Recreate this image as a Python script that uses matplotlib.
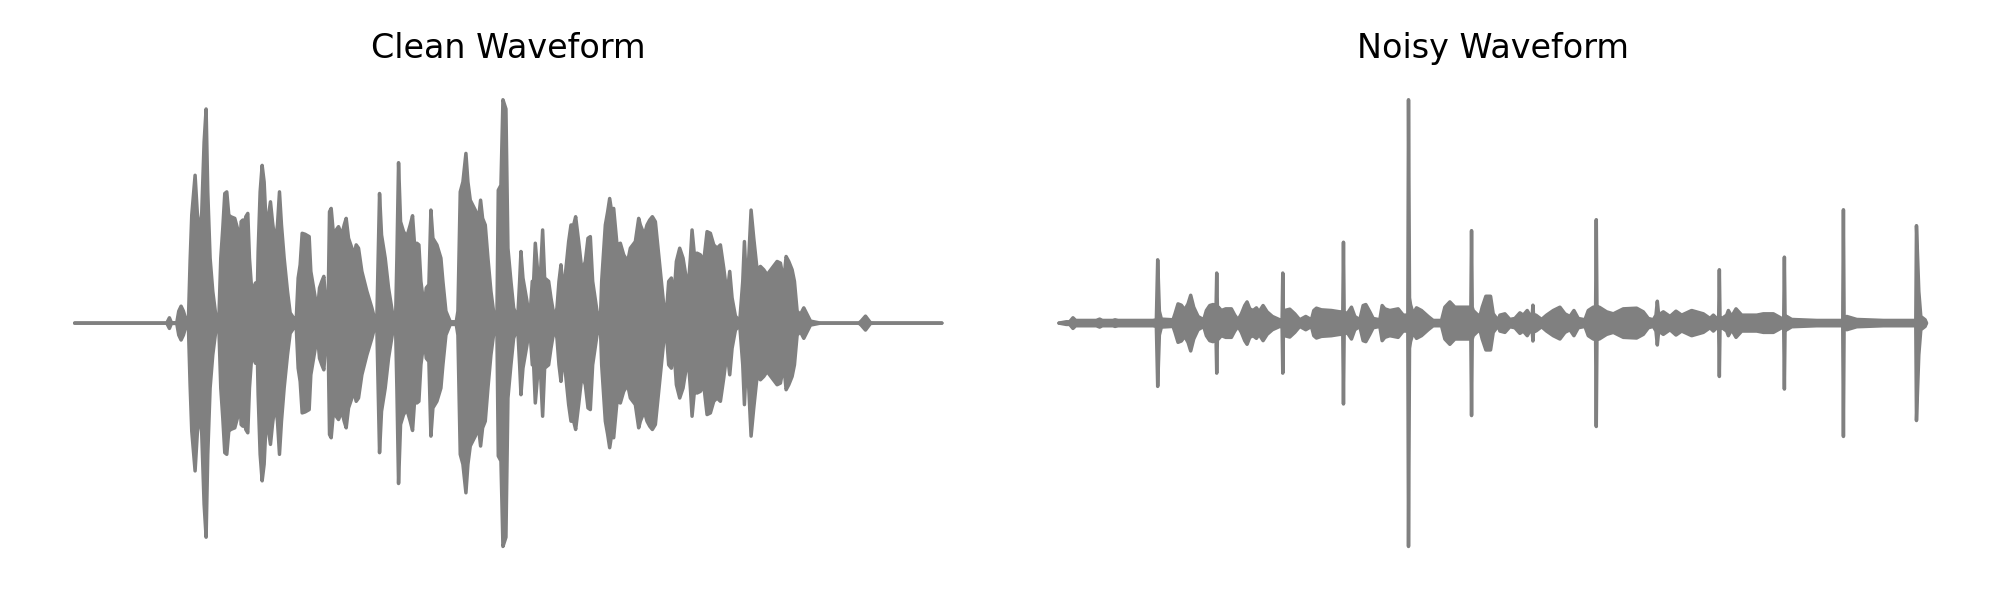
import matplotlib
matplotlib.use("Agg")
import matplotlib.pyplot as plt
import numpy as np

# envelopes, the waveforms are symmetric around zero
clean_time = [44, 185, 190, 195, 265, 273, 282, 320, 328, 334, 350, 356, 363, 370, 378, 385, 390, 395, 405, 412,
              420, 425, 432, 438, 443, 450, 458, 468, 476, 482, 488, 494, 500, 506, 512, 524, 532, 538, 543, 548,
              553, 557, 563, 568, 575, 580, 584, 586, 592, 594, 600, 606, 612, 618, 624, 631, 637, 645, 652, 658,
              664, 672, 682, 690, 700, 708, 714, 720, 726, 735, 747, 752, 762, 772, 778, 785, 791, 797, 804, 808,
              813, 820, 828, 835, 845, 852, 858, 865, 875, 882, 888, 895, 905, 920, 935, 945, 950, 954, 958, 964,
              975, 985, 1000, 1006, 1010, 1015, 1021, 1030, 1040, 1050, 1057, 1063, 1070, 1076, 1082, 1092, 1098,
              1106, 1112, 1118, 1130, 1142, 1148, 1157, 1170, 1188, 1193, 1200, 1208, 1217, 1223, 1230, 1245, 1255,
              1261, 1267, 1275, 1283, 1292, 1303, 1310, 1314, 1322, 1328, 1337, 1343, 1352, 1360, 1372, 1378, 1382,
              1388, 1400, 1408, 1416, 1420, 1425, 1432, 1440, 1447, 1453, 1465, 1472, 1483, 1490, 1496, 1502, 1507,
              1515, 1525, 1532, 1540, 1546, 1555, 1565, 1575, 1583, 1590, 1597, 1610, 1620, 1624, 1635, 1642, 1648,
              1654, 1660, 1670, 1680, 1690, 1702, 1710, 1725, 1735, 1740, 1752, 1760, 1768, 1776, 1785, 1792, 1803,
              1810, 1817, 1825, 1833, 1840, 1848, 1858, 1868, 1883, 1890, 1895, 1902, 1910, 1920, 1930, 1940, 1950,
              1960, 1970, 1980, 1990, 2000, 2008, 2015, 2025, 2038, 2047, 2052, 2058, 2065, 2072, 2080, 2090, 2100,
              2110, 2120, 2135, 2150, 2160, 2170, 2177, 2185, 2195, 2202, 2210, 2220, 2230, 2240, 2250, 2280, 2395,
              2402, 2415, 2430, 2445, 2644]
clean_amp = [0, 0, 3, 0, 0, 4, 0, 2, 20, 5, 5, 40, 55, 40, 12, 15, 190, 330, 450, 330,
             270, 340, 550, 650, 400, 200, 100, 20, 10, 200, 290, 395, 400, 330, 325, 320, 290, 180, 310, 315,
             300, 325, 335, 200, 100, 20, 120, 125, 120, 220, 400, 480, 430, 300, 320, 370, 310, 245, 300, 400,
             300, 200, 100, 35, 20, 10, 140, 180, 275, 272, 265, 160, 100, 40, 110, 130, 145, 60, 70, 340,
             350, 270, 285, 295, 270, 300, 320, 260, 230, 210, 240, 230, 160, 100, 50, 10, 20, 210, 395, 270,
             200, 110, 15, 10, 200, 488, 310, 280, 265, 300, 328, 240, 245, 240, 130, 50, 110,
             120, 345, 260, 240, 200, 130, 40, 8, 8, 40, 400, 430, 516, 430, 375, 345, 320,
             375, 320, 300, 200, 100, 15, 30, 405, 420, 678, 650, 230, 130, 50, 15, 130, 220,
             140, 70, 10, 130, 130, 245, 160, 140, 285, 140, 130, 80, 15, 50, 130, 180, 120,
             150, 250, 300, 300, 325, 250, 160, 190, 260, 265, 130, 40, 10, 130, 300, 340, 380,
             340, 350, 240, 245, 210, 190, 230, 250, 320, 300, 270, 300, 315, 325, 310, 240, 130,
             60, 20, 130, 140, 70, 190, 230, 200, 105, 200, 285, 210, 215, 210, 190, 280, 275,
             240, 230, 240, 170, 90, 160, 80, 25, 10, 130, 250, 120, 200, 345, 260, 165, 175,
             165, 150, 170, 190, 185, 130, 205, 190, 165, 130, 40, 30, 50, 30, 10, 3, 2,
             10, 25, 5, 0, 0]

noisy_time = [28, 50, 60, 70, 78, 140, 150, 158, 190, 196, 205, 310, 320, 324, 329, 335, 370, 376, 385, 395,
              405, 415, 423, 432, 445, 462, 470, 480, 490, 497, 499, 501, 503, 506, 515, 528, 545, 555, 565, 575,
              585, 592, 600, 610, 620, 628, 640, 652, 668, 690, 697, 699, 701, 705, 720, 735, 750, 768, 785, 792,
              800, 815, 845, 870, 879, 881, 883, 892, 905, 915, 930, 940, 948, 960, 970, 990, 997, 1005, 1020, 1045,
              1060, 1070, 1074, 1076, 1079, 1082, 1090, 1100, 1115, 1135, 1150, 1175, 1185, 1200, 1215, 1245, 1263,
              1265, 1267, 1270, 1280, 1290, 1297, 1308, 1322, 1330, 1345, 1350, 1365, 1380, 1395, 1410, 1420, 1432,
              1440, 1447, 1449, 1451, 1458, 1475, 1490, 1510, 1530, 1545, 1560, 1572, 1585, 1605, 1615, 1630, 1637,
              1639, 1641, 1648, 1670, 1690, 1720, 1760, 1780, 1795, 1810, 1818, 1822, 1826, 1840, 1860, 1878, 1895,
              1925, 1960, 1980, 1990, 2000, 2006, 2008, 2010, 2016, 2030, 2035, 2045, 2058, 2075, 2120, 2140, 2170,
              2195, 2201, 2203, 2205, 2210, 2225, 2300, 2370, 2378, 2380, 2382, 2390, 2420, 2500, 2590, 2597, 2599,
              2606, 2612, 2625, 2629]
noisy_amp = [4, 8, 8, 20, 12, 12, 16, 12, 12, 14, 12, 12, 14, 195, 40, 16, 14, 32, 62, 58,
             44, 62, 88, 52, 24, 14, 42, 57, 60, 52, 52, 155, 52, 52, 42, 47, 47, 28, 14, 32,
             57, 68, 47, 42, 50, 38, 57, 38, 24, 14, 14, 155, 24, 42, 46, 32, 14, 24, 14, 42,
             49, 44, 42, 38, 38, 248, 38, 32, 52, 24, 14, 57, 60, 38, 18, 14, 57, 47, 42, 47,
             28, 28, 28, 678, 80, 60, 32, 50, 42, 24, 12, 12, 52, 68, 52, 52, 52,
             283, 52, 42, 32, 24, 52, 85, 85, 32, 12, 28, 32, 15, 18, 35, 28, 42,
             28, 28, 58, 28, 28, 15, 28, 42, 52, 32, 24, 42, 18, 14, 42, 52, 52,
             316, 52, 52, 38, 32, 47, 49, 38, 18, 14, 28, 70, 28, 38, 24, 40, 28,
             42, 32, 18, 28, 18, 18, 165, 18, 18, 28, 42, 24, 47, 28, 28, 32, 32,
             18, 18, 203, 18, 24, 15, 12, 12, 12, 346, 12, 24, 15, 12, 12, 12, 298,
             100, 24, 14, 4]

titles = ["Clean Waveform", "Noisy Waveform"]
xlims = [(-93, 2781), (-108.5, 2765.5)]

fig, axes = plt.subplots(1, 2, figsize=(20, 6))
fig.subplots_adjust(left=0.0145, right=0.986, top=0.873, bottom=0.05, wspace=0.027)

for ax, t, a, title, xlim in zip(axes, [clean_time, noisy_time], [clean_amp, noisy_amp], titles, xlims):
    t = np.array(t)
    # values were read at the outer edge of the stroke
    a = np.clip(np.array(a) - 4, 0, None)
    ax.fill_between(t, -a, a, color='gray', linewidth=0)
    ax.plot(t, a, color='gray', linewidth=2.5, solid_capstyle='round', solid_joinstyle='round')
    ax.plot(t, -a, color='gray', linewidth=2.5, solid_capstyle='round', solid_joinstyle='round')
    ax.set_xlim(xlim)
    ax.set_ylim(-745, 745)
    ax.set_title(title, fontsize=24, pad=13)
    ax.axis('off')

plt.savefig('out.png', dpi=100)
